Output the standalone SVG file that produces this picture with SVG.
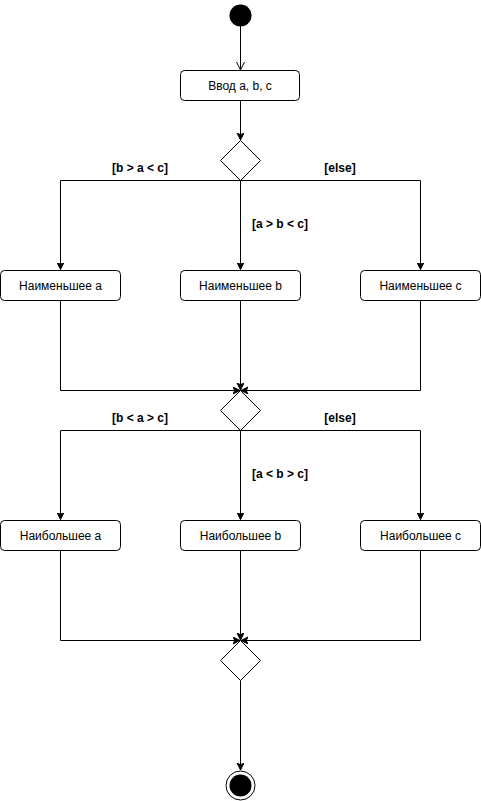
<svg xmlns="http://www.w3.org/2000/svg" width="481" height="801" viewBox="0 0 481 801">
<style>
.box{fill:#fff;stroke:#000;stroke-width:1}
.dia{fill:#fff;stroke:#000;stroke-width:1}
.edge{fill:none;stroke:#000;stroke-width:1}
.t{font-family:"Liberation Sans",Arial,sans-serif;font-size:12px;fill:#000;text-anchor:middle}
.lbl{font-family:"Liberation Sans",Arial,sans-serif;font-size:12px;font-weight:bold;fill:#000;text-anchor:middle}
</style>
<defs>
<marker id="arr" markerWidth="10" markerHeight="10" refX="7" refY="3.5" orient="auto" markerUnits="userSpaceOnUse">
<path d="M0,0 L7,3.5 L0,7 L1.8,3.5 Z" fill="#000" stroke="#000" stroke-width="1"/>
</marker>
<marker id="open" markerWidth="12" markerHeight="12" refX="8" refY="4" orient="auto" markerUnits="userSpaceOnUse">
<path d="M0,0 L8,4 L0,8" fill="none" stroke="#000" stroke-width="1"/>
</marker>
</defs>
<g id="connectors">
<path class="edge" d="M240.5,26 V70" marker-end="url(#open)"/>
<path class="edge" d="M240.5,100.5 V140" marker-end="url(#arr)"/>
<path class="edge" d="M240.5,180.5 H60.5 V269.5" marker-end="url(#arr)"/>
<path class="edge" d="M240.5,180.5 V269.5" marker-end="url(#arr)"/>
<path class="edge" d="M240.5,180.5 H420.5 V269.5" marker-end="url(#arr)"/>
<path class="edge" d="M60.5,300.5 V390.5 H240" marker-end="url(#arr)"/>
<path class="edge" d="M240.5,300.5 V390" marker-end="url(#arr)"/>
<path class="edge" d="M420.5,300.5 V390.5 H241" marker-end="url(#arr)"/>
<path class="edge" d="M240.5,430.5 H60.5 V519.5" marker-end="url(#arr)"/>
<path class="edge" d="M240.5,430.5 V519.5" marker-end="url(#arr)"/>
<path class="edge" d="M240.5,430.5 H420.5 V519.5" marker-end="url(#arr)"/>
<path class="edge" d="M60.5,550.5 V640.5 H240" marker-end="url(#arr)"/>
<path class="edge" d="M240.5,550.5 V640" marker-end="url(#arr)"/>
<path class="edge" d="M420.5,550.5 V640.5 H241" marker-end="url(#arr)"/>
<path class="edge" d="M240.5,680.5 V770" marker-end="url(#arr)"/>
<text class="lbl" x="140" y="172">[b &gt; a &lt; c]</text>
<text class="lbl" x="340" y="172">[else]</text>
<text class="lbl" x="280" y="228">[a &gt; b &lt; c]</text>
<text class="lbl" x="140" y="422">[b &lt; a &gt; c]</text>
<text class="lbl" x="340" y="422">[else]</text>
<text class="lbl" x="280" y="478">[a &lt; b &gt; c]</text>
</g>
<g id="start"><circle cx="240.5" cy="15.5" r="11" fill="#000"/></g>
<g id="input"><rect class="box" x="180.5" y="70.5" width="119" height="30" rx="4"/><text class="t" x="240" y="89.5">Ввод a, b, c</text></g>
<g id="dec1"><path class="dia" d="M240.5,140.5 L260.5,160.5 L240.5,180.5 L220.5,160.5 Z"/></g>
<g id="min_a"><rect class="box" x="0.5" y="270.5" width="120" height="30" rx="4"/><text class="t" x="60.5" y="289.5">Наименьшее a</text></g>
<g id="min_b"><rect class="box" x="180.5" y="270.5" width="120" height="30" rx="4"/><text class="t" x="240.5" y="289.5">Наименьшее b</text></g>
<g id="min_c"><rect class="box" x="360.5" y="270.5" width="120" height="30" rx="4"/><text class="t" x="420.5" y="289.5">Наименьшее c</text></g>
<g id="merge1"><path class="dia" d="M240.5,390.5 L260.5,410.5 L240.5,430.5 L220.5,410.5 Z"/></g>
<g id="max_a"><rect class="box" x="0.5" y="520.5" width="120" height="30" rx="4"/><text class="t" x="60.5" y="539.5">Наибольшее a</text></g>
<g id="max_b"><rect class="box" x="180.5" y="520.5" width="120" height="30" rx="4"/><text class="t" x="240.5" y="539.5">Наибольшее b</text></g>
<g id="max_c"><rect class="box" x="360.5" y="520.5" width="120" height="30" rx="4"/><text class="t" x="420.5" y="539.5">Наибольшее c</text></g>
<g id="merge2"><path class="dia" d="M240.5,640.5 L260.5,660.5 L240.5,680.5 L220.5,660.5 Z"/></g>
<g id="end"><circle cx="240.5" cy="785.5" r="14.5" fill="#fff" stroke="#000" stroke-width="1"/><circle cx="240.5" cy="785.5" r="11" fill="#000"/></g>
</svg>
